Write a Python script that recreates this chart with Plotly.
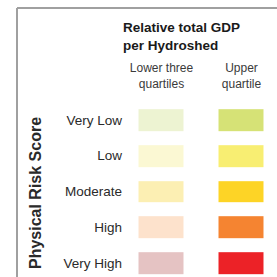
import plotly.graph_objects as go

risk_levels = ["Very Low", "Low", "Moderate", "High", "Very High"]
gdp_groups = ["Lower three<br>quartiles", "Upper<br>quartile"]
lower_colors = ["#edf3d2", "#fbf8d3", "#fcefb3", "#fde2cc", "#e5c3c3"]
upper_colors = ["#d6e276", "#f8ee72", "#fdd426", "#f58431", "#ec2227"]
title_text = "Relative total GDP<br>per Hydroshed"
axis_title = "Physical Risk Score"

W = H = 277
# build discrete colour table: index = row*2 + col
all_colors = []
z = []
for r in range(len(risk_levels)):
    row = []
    for c, cols in enumerate([lower_colors, upper_colors]):
        row.append(len(all_colors))
        all_colors.append(cols[r])
    z.append(row)
n = len(all_colors)
colorscale = []
for i, col in enumerate(all_colors):
    colorscale.append([i / n, col])
    colorscale.append([(i + 1) / n, col])

# pixel geometry
x_left_px = 123
col_pitch = 80.0
col0_center = 161.5
y_top_px = 91
row_pitch = 35.75
row0_center = 120.0

x0 = -(col0_center - x_left_px) / col_pitch
x1 = x0 + (W - x_left_px) / col_pitch
y0 = (y_top_px - row0_center) / row_pitch
y1 = (H - row0_center) / row_pitch

fig = go.Figure(go.Heatmap(
    z=z, x=[0, 1], y=list(range(len(risk_levels))),
    colorscale=colorscale, zmin=0, zmax=n, showscale=False,
    xgap=35, ygap=14, hoverinfo="skip",
))

fig.update_layout(
    width=W, height=H, margin=dict(l=0, r=0, t=0, b=0),
    paper_bgcolor="white", plot_bgcolor="white",
    font=dict(family="Liberation Sans, Arial, sans-serif", color="#333"),
    xaxis=dict(domain=[x_left_px / W, 1], range=[x0, x1], side="top",
               tickvals=[0, 1], ticktext=gdp_groups, showgrid=False,
               zeroline=False, showline=False, ticks="",
               tickfont=dict(size=12, color="#3a3a3a")),
    yaxis=dict(domain=[0, 1 - y_top_px / H], range=[y1, y0],
               tickvals=list(range(len(risk_levels))), ticktext=risk_levels,
               showgrid=False, zeroline=False, showline=False, ticks="",
               tickfont=dict(size=13.5, color="#2a2a2a")),
    annotations=[
        dict(text="<b>" + title_text + "</b>", xref="paper", yref="paper",
             x=121 / W, y=1 - 18 / H, xanchor="left", yanchor="top",
             align="left", showarrow=False,
             font=dict(size=13.5, color="#1a1a1a")),
        dict(text="<b>" + axis_title + "</b>", xref="paper", yref="paper",
             x=35 / W, y=1 - 193 / H, xanchor="center", yanchor="middle",
             textangle=-90, showarrow=False,
             font=dict(size=16, color="#2a2a2a")),
    ],
    shapes=[
        dict(type="line", xref="paper", yref="paper", x0=17 / W, x1=1,
             y0=1 - 8 / H, y1=1 - 8 / H, line=dict(color="#a0a0a0", width=2)),
        dict(type="line", xref="paper", yref="paper", x0=17 / W, x1=17 / W,
             y0=0, y1=1 - 8 / H, line=dict(color="#a0a0a0", width=2)),
    ],
)

fig.write_html("out.html", config={"displayModeBar": False},
               post_script="document.body.style.margin='0';")
